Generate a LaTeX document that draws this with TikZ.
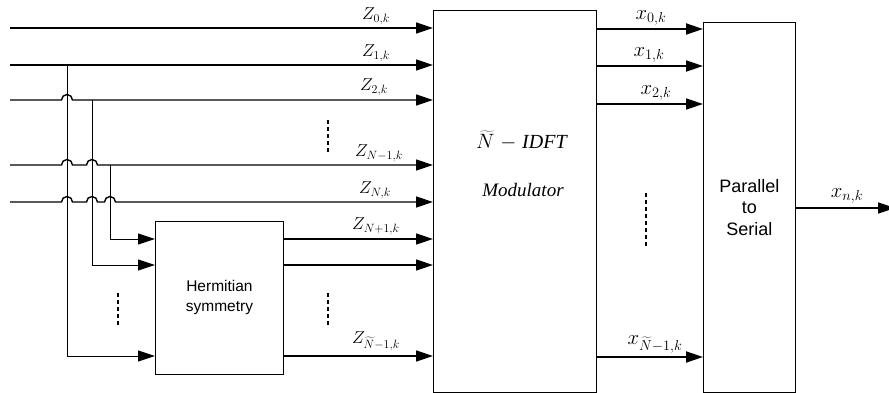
\documentclass[tikz,border=0pt]{standalone}
\usepackage{fontspec}
\setmainfont{Liberation Serif}
\setsansfont{Liberation Sans}
\usetikzlibrary{arrows.meta}
\begin{document}
\begin{tikzpicture}[x=1pt,y=1pt,
  box/.style={draw, line width=0.9pt, inner sep=0pt, anchor=north west},
  tip/.style={-{Triangle[length=17pt,width=11pt]}},
  sig/.style={line width=1.4pt, tip},
  sigb/.style={line width=1.8pt, tip},
  wire/.style={line width=1pt},
  zlab/.style={anchor=south, inner sep=1pt, font=\fontsize{17}{17}\selectfont},
  xlab/.style={anchor=south, inner sep=1pt, font=\fontsize{20}{20}\selectfont},
  vdots/.style={line width=2.4pt, dash pattern=on 4pt off 3pt},
  sanstxt/.style={align=center, font=\sffamily\fontsize{15.5}{20}\selectfont}]
\useasboundingbox (0,0) rectangle (889,-393);
\fill[white] (0,0) rectangle (889,-393);

% boxes
\node[box, minimum width=163pt, minimum height=382pt] (mod) at (433,-10) {};
\node[box, minimum width=92pt, minimum height=370pt, sanstxt, font=\sffamily\fontsize{18}{21.5}\selectfont] (ps) at (703,-22) {Parallel\\to\\Serial};
\node[box, minimum width=128pt, minimum height=153pt, sanstxt] (herm) at (155,-221) {Hermitian\\symmetry};
\node[font=\fontsize{20}{20}\selectfont] (idft) at (522,-141) {$\widetilde{N}\;-\;$\textit{IDFT}};
\node[font=\fontsize{19}{19}\selectfont\itshape] (modt) at (523,-190) {Modulator};

% input lines
\coordinate (a0) at (10,-28);
\coordinate (a1) at (10,-65);
\coordinate (a2) at (10,-100);
\coordinate (a3) at (10,-165);
\coordinate (a4) at (10,-202);
\draw[sig] (a0) -- (a0 -| mod.west);
\draw[sig] (a1) -- (a1 -| mod.west);
\draw[sig] (a2) -- (61.5,-100) arc[start angle=180,end angle=0,radius=5.5] -- (a2 -| mod.west);
\draw[sig] (a3) -- (61.5,-165) arc[start angle=180,end angle=0,radius=5.5]
  -- (86.5,-165) arc[start angle=180,end angle=0,radius=5.5] -- (a3 -| mod.west);
\draw[sig] (a4) -- (61.5,-202) arc[start angle=180,end angle=0,radius=5.5]
  -- (86.5,-202) arc[start angle=180,end angle=0,radius=5.5]
  -- (104.5,-202) arc[start angle=180,end angle=0,radius=5.5] -- (a4 -| mod.west);

\node[zlab] (z0) at (376,-26) {$Z_{0,k}$};
\node[zlab] (z1) at (376,-63) {$Z_{1,k}$};
\node[zlab] (z2) at (374,-97) {$Z_{2,k}$};
\node[zlab] (z3) at (379,-163) {$Z_{N-1,k}$};
\node[zlab] (z4) at (375,-200) {$Z_{N,k}$};

% taps to Hermitian symmetry
\coordinate (j1) at (67,-65);
\coordinate (j2) at (92,-100);
\coordinate (j3) at (110,-165);
\coordinate (h1) at (155,-239);
\coordinate (h2) at (155,-265);
\coordinate (h3) at (155,-356);
\draw[wire, tip] (j3) |- (h1);
\draw[wire, tip] (j2) |- (h2);
\draw[wire, tip] (j1) |- (h3);

% Hermitian outputs
\draw[sig] (h1 -| herm.east) -- (h1 -| mod.west);
\draw[sig] (h2 -| herm.east) -- (h2 -| mod.west);
\draw[sig] (h3 -| herm.east) -- (h3 -| mod.west);
\node[zlab] (z5) at (376,-236) {$Z_{N+1,k}$};
\node[zlab] (z6) at (376,-352) {$Z_{\widetilde{N}-1,k}$};

% modulator outputs
\coordinate (o0) at (596,-29);
\coordinate (o1) at (596,-66);
\coordinate (o2) at (596,-104);
\coordinate (o3) at (596,-357);
\draw[sigb] (o0) -- (o0 -| ps.west);
\draw[sigb] (o1) -- (o1 -| ps.west);
\draw[sigb] (o2) -- (o2 -| ps.west);
\draw[sigb] (o3) -- (o3 -| ps.west);
\node[xlab] (x0) at (651,-27) {$x_{0,k}$};
\node[xlab] (x1) at (649,-64) {$x_{1,k}$};
\node[xlab] (x2) at (656,-102) {$x_{2,k}$};
\node[xlab] (x3) at (655,-354) {$x_{\widetilde{N}-1,k}$};

% serial output
\coordinate (out) at (895,-208);
\draw[sigb] (out -| ps.east) -- (out);
\node[xlab] (xn) at (847,-205) {$x_{n,k}$};

% ellipsis dashes
\draw[vdots] (118,-293) -- (118,-325);
\draw[vdots] (328,-120) -- (328,-153);
\draw[vdots] (328,-293) -- (328,-325);
\draw[vdots] (646,-193) -- (646,-247);
\end{tikzpicture}
\end{document}
